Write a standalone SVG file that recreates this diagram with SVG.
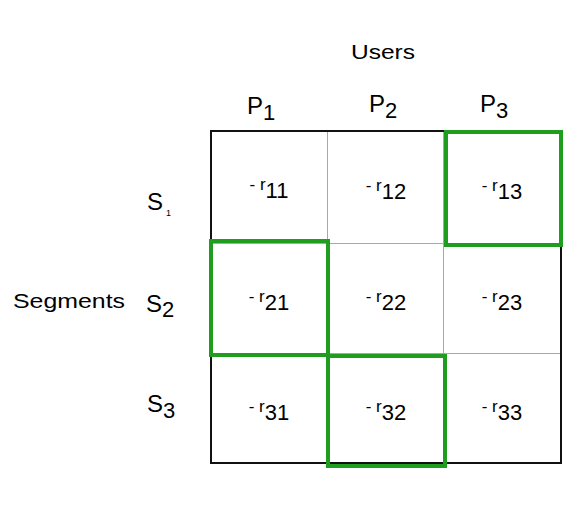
<svg xmlns="http://www.w3.org/2000/svg" width="586" height="512" viewBox="0 0 586 512">
<style>
text{font-family:"Liberation Sans",Arial,sans-serif;fill:#000}
.lbl{font-size:21px}
.big{font-size:24px}
.cell{font-size:17px;text-anchor:middle}
.sub{font-size:22px}
.grid{stroke:#a8a8a8;stroke-width:1;fill:none}
.outer{stroke:#111;stroke-width:2;fill:none}
.hl{stroke:#1f9d1f;stroke-width:4;fill:none}
</style>
<rect width="586" height="512" fill="#fff"/>
<g id="axes">
<text class="lbl" x="383" y="59" text-anchor="middle" textLength="64" lengthAdjust="spacingAndGlyphs">Users</text>
<text class="lbl" x="13" y="308" textLength="112" lengthAdjust="spacingAndGlyphs">Segments</text>
</g>
<g id="cols">
<text class="big" x="247" y="114">P<tspan class="sub" dy="6">1</tspan></text>
<text class="big" x="369" y="112">P<tspan class="sub" dy="6">2</tspan></text>
<text class="big" x="480" y="112">P<tspan class="sub" dy="6">3</tspan></text>
</g>
<g id="rows">
<text class="big" x="147" y="210">S<tspan font-size="9" dy="6" dx="3">1</tspan></text>
<text class="big" x="146" y="312">S<tspan class="sub" dy="5">2</tspan></text>
<text class="big" x="147" y="412">S<tspan class="sub" dy="6">3</tspan></text>
</g>
<g id="grid">
<line class="grid" x1="327.5" y1="131" x2="327.5" y2="463"/>
<line class="grid" x1="443.5" y1="131" x2="443.5" y2="463"/>
<line class="grid" x1="211" y1="243.5" x2="561" y2="243.5"/>
<line class="grid" x1="211" y1="353.5" x2="561" y2="353.5"/>
<rect class="outer" x="211" y="131" width="350" height="332"/>
</g>
<g id="cells">
<text class="cell" x="269" y="190">- r<tspan class="sub" dy="8">11</tspan></text>
<text class="cell" x="386" y="191">- r<tspan class="sub" dy="8">12</tspan></text>
<text class="cell" x="502" y="191">- r<tspan class="sub" dy="8">13</tspan></text>
<text class="cell" x="269" y="302">- r<tspan class="sub" dy="8">21</tspan></text>
<text class="cell" x="386" y="302">- r<tspan class="sub" dy="8">22</tspan></text>
<text class="cell" x="502" y="302">- r<tspan class="sub" dy="8">23</tspan></text>
<text class="cell" x="269" y="412">- r<tspan class="sub" dy="8">31</tspan></text>
<text class="cell" x="386" y="412">- r<tspan class="sub" dy="8">32</tspan></text>
<text class="cell" x="502" y="412">- r<tspan class="sub" dy="8">33</tspan></text>
</g>
<g id="highlights">
<rect class="hl" x="446" y="132" width="115" height="113"/>
<rect class="hl" x="211" y="241" width="117" height="114"/>
<rect class="hl" x="328" y="356" width="117" height="110"/>
</g>
</svg>
